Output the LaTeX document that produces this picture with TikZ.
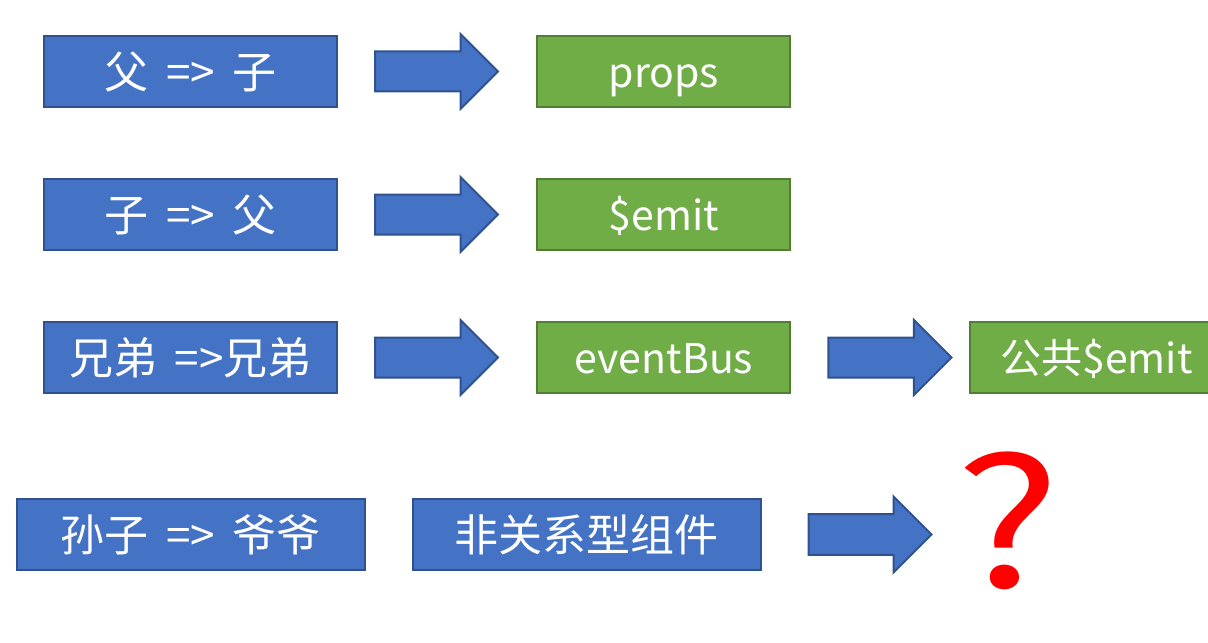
\documentclass[tikz,border=0pt]{standalone}
\usepackage{fontspec}
\setmainfont{Noto Sans CJK SC}[WordSpace=1.8]
\usetikzlibrary{positioning}
\usetikzlibrary{shapes.arrows}
\definecolor{blufill}{HTML}{4472C4}
\definecolor{bluline}{HTML}{2F528F}
\definecolor{verdefill}{HTML}{70AD47}
\definecolor{verdeline}{HTML}{507E32}
\begin{document}
\begin{tikzpicture}[x=0.5pt,y=-0.5pt,
blu/.style={draw=bluline,fill=blufill,line width=1pt,text=white,minimum width=146.5pt,minimum height=35.5pt,inner sep=0pt,text height=17.5pt,text depth=0.5pt,font=\fontsize{22}{26}\selectfont},
blulungo/.style={blu,minimum width=174pt},
verde/.style={blu,draw=verdeline,fill=verdefill,minimum width=126.5pt,text height=16.5pt,font=\fontsize{20.5}{24}\selectfont},
freccia/.style={single arrow,draw=bluline,fill=blufill,line width=1pt,inner xsep=0pt,inner ysep=9.5pt,minimum height=61.5pt,minimum width=36.5pt,single arrow head extend=8.75pt,single arrow tip angle=90}
]
\useasboundingbox (0,0) rectangle (1208,642);
%--
\node[blu] (padre) at (190.5,71.5) {父 => 子};
\node[freccia,right=18pt of padre] (fa) {};
\node[verde,right=18.5pt of fa] (props) {props};
%--
\node[blu,below=35pt of padre] (figlio) {子 => 父};
\node[freccia,right=18pt of figlio] (fb) {};
\node[verde,right=18.5pt of fb] (emit) {\$emit};
%--
\node[blu,below=35pt of figlio] (fratello) {兄弟 =>兄弟};
\node[freccia,right=18pt of fratello] (fc) {};
\node[verde,right=18.5pt of fc] (bus) {eventBus};
\node[freccia,right=18pt of bus] (fd) {};
\node[verde,right=8pt of fd] (pubblico) {公共\$emit};
%--
\node[blulungo,below=52pt of fratello] (nipote) {孙子 => 爷爷};
\node[blulungo,right=23pt of nipote] (altri) {非关系型组件};
\node[freccia,right=23pt of altri,minimum width=38pt] (fe) {};
\node[right=11pt of fe,yshift=6.75pt,xscale=1.25,text=red,font=\fontsize{89}{89}\selectfont,inner sep=0pt] (domanda) {?};
\end{tikzpicture}
\end{document}
